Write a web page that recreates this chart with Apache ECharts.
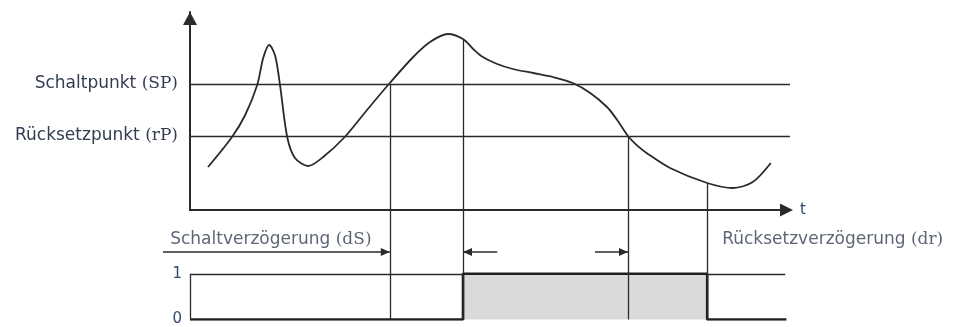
<!DOCTYPE html>
<html>
<head>
<meta charset="utf-8">
<script src="https://cdn.jsdelivr.net/npm/echarts@6/dist/echarts.min.js"></script>
<style>html,body{margin:0;padding:0;background:#fff}#c{width:954px;height:327px}</style>
</head>
<body>
<div id="c"></div>
<script>
// ---- data (time units t: 0..100, process value units v: 0..99) ----
const curveT = [3.0, 7.0, 9.2, 11.2, 12.2, 13.2, 14.2, 15.0, 16.2, 17.5, 19.7, 22.2, 25.8, 29.5, 33.3, 37.2, 40.0, 43.0, 45.5, 47.2, 48.8, 51.2, 53.8, 57.2, 60.5, 63.8, 66.7, 69.5, 71.2, 73.0, 74.5, 76.2, 80.0, 86.2, 90.5, 93.8, 96.8];
const curveV = [21.5, 36.5, 47.5, 62.5, 76, 82.5, 77, 62.5, 36.5, 26, 22, 26.5, 36.5, 50, 63.5, 76.5, 84, 88, 85.5, 80.5, 76.5, 73, 70.5, 68.5, 66.5, 63.5, 58.5, 51.5, 45, 37, 32.3, 28.3, 21, 13.5, 11, 14, 23.5];
const thresholdNames = ['Schaltpunkt', 'Rücksetzpunkt'];
const thresholdCodes = ['SP', 'rP'];
const thresholdValues = [63, 37];
// SP crossed, switch delay elapsed (on), rP crossed, reset delay elapsed (off)
const eventT = [33.3, 45.5, 73.0, 86.2];
const eventCurveV = [63, 85.5, 37, 13.5];
const outputLevels = [0, 1];
const signalT = [0, 45.5, 45.5, 86.2, 86.2, 99.4];
const signalV = [0, 0, 1, 1, 0, 0];
const delayNames = ['Schaltverzögerung', 'Rücksetzverzögerung'];
const delayCodes = ['dS', 'dr'];
const delayLabelT = [-3.3, 88.7];
const delayLabelV = [1.79, 1.79];
// arrows: [fromT, toT] at level arrowV (arrow head at toT)
const arrowFromT = [-4.5, 51.2, 67.5, 127.4];
const arrowToT = [33.3, 45.5, 73.0, 86.2];
const arrowV = 1.52;
const timeAxisName = 't';

// ---- chart ----
const FONT = 'DejaVu Sans';
const SERIF = 'DejaVu Serif';
const TXT = '#333d52';
const LINE = '#2a2a2a';
const bottomMax = 115 / 48;

const rich = {
  s: { fontFamily: SERIF, fontSize: 17, color: TXT }
};

const vTop = eventT.map((t, i) => [{ coord: [t, eventCurveV[i]] }, { coord: [t, 0] }]);
const vBottom = eventT.map(t => [{ coord: [t, bottomMax] }, { coord: [t, 0] }]);

const option = {
  animation: false,
  backgroundColor: '#fff',
  grid: [
    { left: 190, top: 12, width: 600, height: 198 },
    { left: 190, top: 210, width: 600, height: 115 },
    { left: 0, top: 210, width: 954, height: 115 }
  ],
  xAxis: [
    {
      gridIndex: 0, type: 'value', min: 0, max: 100,
      axisLine: { show: true, onZero: true, lineStyle: { color: LINE, width: 2 },
        symbol: ['none', 'triangle'], symbolSize: [13, 13], symbolOffset: [0, -3.5] },
      axisTick: { show: false }, axisLabel: { show: false }, splitLine: { show: false },
      name: timeAxisName, nameLocation: 'end', nameGap: 10,
      nameTextStyle: { fontFamily: FONT, fontSize: 15, color: '#34486e', verticalAlign: 'middle', padding: [3, 0, 0, 0] }
    },
    { gridIndex: 1, type: 'value', min: 0, max: 100, show: false },
    { gridIndex: 2, type: 'value', min: -190 / 6, max: 764 / 6, show: false }
  ],
  yAxis: [
    {
      gridIndex: 0, type: 'value', min: 0, max: 99,
      axisLine: { show: true, lineStyle: { color: LINE, width: 2 },
        symbol: ['none', 'triangle'], symbolSize: [14, 13], symbolOffset: [0, -6.5] },
      axisTick: { show: false }, splitLine: { show: false },
      axisLabel: {
        show: true, customValues: thresholdValues, margin: 12,
        fontFamily: FONT, fontSize: 17, color: TXT, rich: rich,
        formatter: function (v) {
          const i = thresholdValues.indexOf(v);
          return i < 0 ? '' : thresholdNames[i] + ' {s|(' + thresholdCodes[i] + ')}';
        }
      }
    },
    {
      gridIndex: 1, type: 'value', min: 0, max: bottomMax,
      axisLine: { show: false }, axisTick: { show: false }, splitLine: { show: false },
      axisLabel: { show: true, customValues: outputLevels, margin: 8,
        fontFamily: FONT, fontSize: 15, color: '#34486e' }
    },
    { gridIndex: 2, type: 'value', min: 0, max: bottomMax, show: false }
  ],
  series: [
    {
      type: 'line', xAxisIndex: 0, yAxisIndex: 0,
      data: curveT.map((t, i) => [t, curveV[i]]),
      smooth: 0.3, symbol: 'none',
      lineStyle: { color: LINE, width: 1.8 },
      z: 3,
      markLine: {
        silent: true, symbol: ['none', 'none'], animation: false,
        label: { show: false },
        lineStyle: { color: LINE, width: 1.3, type: 'solid' },
        data: thresholdValues.map(v => ({ yAxis: v })).concat(vTop)
      }
    },
    {
      type: 'line', xAxisIndex: 1, yAxisIndex: 1,
      data: signalT.map((t, i) => [t, signalV[i]]),
      symbol: 'none',
      lineStyle: { color: '#1f1f1f', width: 2.6 },
      z: 4,
      markArea: {
        silent: true,
        itemStyle: { color: '#d9dadb' },
        data: [[{ coord: [eventT[1], 0] }, { coord: [eventT[3], 1] }]]
      },
      markLine: {
        silent: true, symbol: ['none', 'none'], animation: false,
        label: { show: false },
        lineStyle: { color: LINE, width: 1.3, type: 'solid' },
        data: vBottom.concat([
          [{ coord: [0, 0] }, { coord: [0, 1] }],
          [{ coord: [0, 1] }, { coord: [eventT[1], 1] }],
          [{ coord: [eventT[3], 1] }, { coord: [signalT[signalT.length - 1] - 0.2, 1] }]
        ])
      }
    },
    {
      type: 'scatter', xAxisIndex: 2, yAxisIndex: 2,
      data: delayLabelT.map((t, i) => [t, delayLabelV[i]]),
      symbolSize: 0,
      label: {
        show: true, position: 'right', distance: 0,
        fontFamily: FONT, fontSize: 17, color: TXT, rich: rich,
        formatter: p => delayNames[p.dataIndex] + ' {s|(' + delayCodes[p.dataIndex] + ')}'
      },
      markLine: {
        silent: true, animation: false,
        symbol: ['none', 'triangle'], symbolSize: [8, 9],
        symbolOffset: [[0, 0], [0, 4.5]],
        label: { show: false },
        lineStyle: { color: LINE, width: 1.5, type: 'solid' },
        data: arrowFromT.map((f, i) => [{ coord: [f, arrowV] }, { coord: [arrowToT[i], arrowV] }])
      }
    }
  ]
};

const chart = echarts.init(document.getElementById('c'), null, { renderer: 'canvas' });
chart.setOption(option);
</script>
</body>
</html>
